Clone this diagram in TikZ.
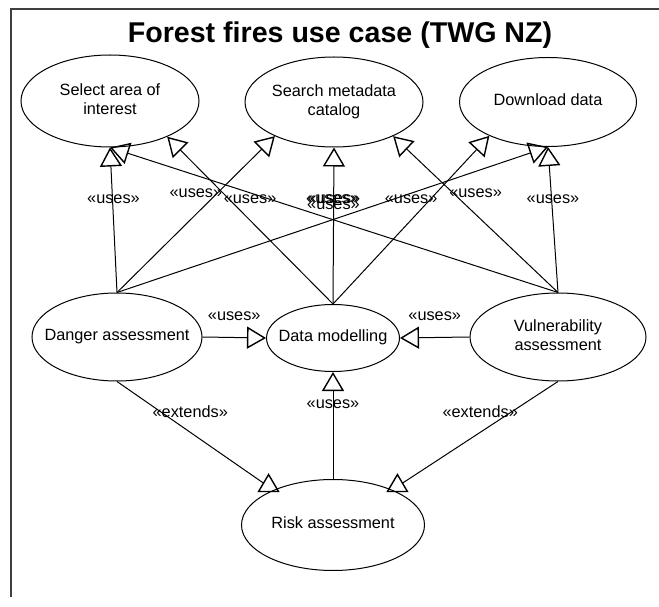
\documentclass[tikz,border=0pt]{standalone}
\usepackage{fontspec}
\setmainfont{Liberation Sans}
\usepackage{tikz}
\usetikzlibrary{arrows.meta, positioning, calc, shapes.geometric}

\newcommand{\uctext}[1]{\makebox[0pt]{\begin{tabular}{@{}c@{}}#1\end{tabular}}}

\begin{document}
\begin{tikzpicture}[x=1pt, y=1pt,
	usecase/.style={draw, ellipse, line width=1pt, inner sep=0pt, font=\fontsize{16.3}{19.5}\selectfont},
	assoc/.style={line width=1pt},
	uses/.style={assoc, -{Triangle[open, length=19pt, width=22pt, line width=1.4pt]}},
	lbl/.style={midway, yshift=21pt, inner sep=0pt, font=\fontsize{16.3}{19.5}\selectfont}]
	\useasboundingbox (0,0) rectangle (659,606);
	\draw[line width=2.2pt, black!75] (11,9) -- (11,597) -- (659,597);
	\node[anchor=base, font=\fontsize{28.6}{34}\selectfont\bfseries] (title) at (340,563) {Forest fires use case (TWG NZ)};

	\node[usecase, minimum width=178pt, minimum height=92pt] (select) at (110,505) {\uctext{Select area of\\interest}};
	\node[usecase, minimum width=178pt, minimum height=90pt] (search) at (334,504) {\uctext{Search metadata\\catalog}};
	\node[usecase, minimum width=177pt, minimum height=89pt] (download) at (548,504) {\uctext{Download data}};
	\node[usecase, minimum width=170pt, minimum height=88pt] (danger) at (117,269) {\uctext{Danger assessment}};
	\node[usecase, minimum width=133pt, minimum height=67pt] (model) at (333,268) {\uctext{Data modelling}};
	\node[usecase, minimum width=176pt, minimum height=88pt] (vuln) at (558,269) {\uctext{Vulnerability\\assessment}};
	\node[usecase, minimum width=183pt, minimum height=91pt] (risk) at (333,81) {\uctext{Risk assessment}};

	\draw[uses] (danger.north) -- (select.south) node[lbl] {«uses»};
	\draw[uses] (danger.north) -- (search.-150) node[lbl] {«uses»};
	\draw[uses] (danger.north) -- (download.south) node[lbl] {«uses»};
	\draw[uses] (model.north) -- (select.-32) node[lbl] {«uses»};
	\draw[uses] (model.north) -- (search.south) node[lbl] {«uses»};
	\draw[uses] (model.north) -- (download.-150) node[lbl] {«uses»};
	\draw[uses] (vuln.north) -- (select.south) node[lbl] {«uses»};
	\draw[uses] (vuln.north) -- (search.-30) node[lbl] {«uses»};
	\draw[uses] (vuln.north) -- (download.south) node[lbl] {«uses»};

	\draw[uses] (danger.east) -- (model.west) node[lbl] {«uses»};
	\draw[uses] (vuln.west) -- (model.east) node[lbl] {«uses»};
	\draw[uses] (risk.north) -- (model.south) node[lbl] {«uses»};

	\coordinate (extleft) at ([shift={(-5,9)}]risk.153);
	\coordinate (extright) at ([shift={(5,9)}]risk.27);
	\draw[assoc] (danger.south) -- (extleft) node[lbl] {«extends»};
	\draw[assoc] (vuln.south) -- (extright) node[lbl] {«extends»};
	\draw[uses] (risk.153) -- ++(0,19);
	\draw[uses] (risk.27) -- ++(0,19);
\end{tikzpicture}
\end{document}
